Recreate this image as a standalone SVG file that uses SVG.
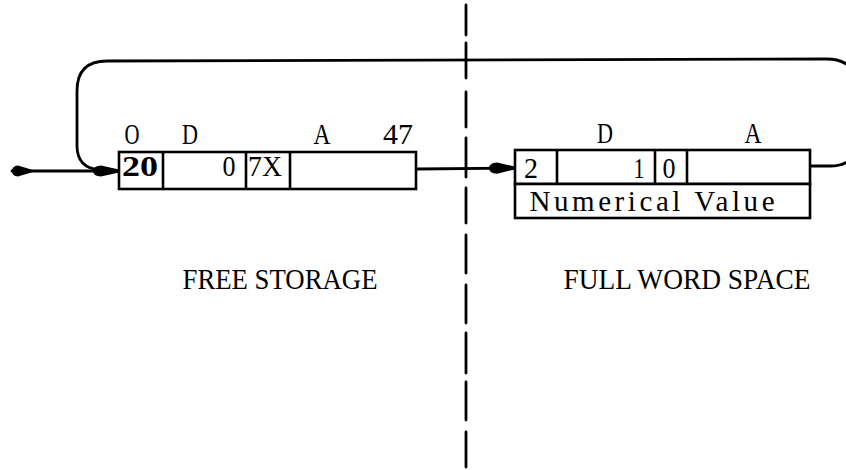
<svg xmlns="http://www.w3.org/2000/svg" width="846" height="470" viewBox="0 0 846 470">
  <style>
    .bx { fill: #fff; stroke: #000; stroke-width: 2.6; }
    .dv { stroke: #000; stroke-width: 2.6; }
    .ln { fill: none; stroke: #000; stroke-width: 2.8; stroke-linecap: round; stroke-linejoin: round; }
    .t { font-family: "Liberation Serif", "DejaVu Serif", serif; font-size: 29px; fill: #000; text-anchor: middle; }
    .b { font-weight: bold; }
  </style>
  <defs>
    <marker id="head" viewBox="0 0 26 12" refX="26" refY="6" markerWidth="26" markerHeight="12" markerUnits="userSpaceOnUse" orient="auto">
      <path d="M26 4.6 L8 0.4 Q0 1 0 6 Q0 11 8 11.6 L26 7.4 Z" fill="#000"/>
    </marker>
    <marker id="tail" viewBox="0 0 20 12" refX="0" refY="6" markerWidth="20" markerHeight="12" markerUnits="userSpaceOnUse" orient="auto">
      <path d="M20 4.8 L6 0.5 Q0 1 0 6 Q0 11 6 11.5 L20 7.2 Z" fill="#000"/>
    </marker>
  </defs>

  <g id="divider">
    <path class="ln" d="M466 5 V35 M466 43 V78 M466 92 V127 M466 138 V177 M466 188 V223 M466 235 V273 M466 285 V323 M466 333 V373 M466 382 V420 M466 432 V467"/>
  </g>

  <g id="connectors">
    <path class="ln" d="M811 166 L830 166 Q857 166 857 140 L857 88 Q857 59 826 59 L107 61 Q77 61 77 91 L77 146 Q77 168 100 170"/>
    <line class="ln" x1="12" y1="171" x2="119" y2="171" marker-start="url(#tail)" marker-end="url(#head)"/>
    <line class="ln" x1="417" y1="169" x2="515" y2="168" marker-end="url(#head)"/>
  </g>

  <g id="free-storage-word">
    <rect class="bx" x="119" y="152" width="297" height="37"/>
    <line class="dv" x1="163" y1="152" x2="163" y2="189"/>
    <line class="dv" x1="246" y1="152" x2="246" y2="189"/>
    <line class="dv" x1="290" y1="152" x2="290" y2="189"/>
    <text class="t" x="132" y="144" textLength="15" lengthAdjust="spacingAndGlyphs">O</text>
    <text class="t" x="190" y="144" textLength="16" lengthAdjust="spacingAndGlyphs">D</text>
    <text class="t" x="322" y="144" textLength="17" lengthAdjust="spacingAndGlyphs">A</text>
    <text class="t" x="398" y="144" textLength="30" lengthAdjust="spacingAndGlyphs">47</text>
    <text class="t b" x="140" y="176" textLength="36" lengthAdjust="spacingAndGlyphs">20</text>
    <text class="t" x="229" y="176" textLength="13" lengthAdjust="spacingAndGlyphs">0</text>
    <text class="t" x="265" y="176" textLength="34" lengthAdjust="spacingAndGlyphs">7X</text>
  </g>

  <g id="full-word">
    <rect class="bx" x="515" y="150" width="295" height="34"/>
    <rect class="bx" x="515" y="184" width="295" height="34"/>
    <line class="dv" x1="557" y1="150" x2="557" y2="184"/>
    <line class="dv" x1="655" y1="150" x2="655" y2="184"/>
    <line class="dv" x1="687" y1="150" x2="687" y2="184"/>
    <text class="t" x="605" y="143" textLength="16" lengthAdjust="spacingAndGlyphs">D</text>
    <text class="t" x="753" y="143" textLength="17" lengthAdjust="spacingAndGlyphs">A</text>
    <text class="t" x="531" y="178" textLength="14" lengthAdjust="spacingAndGlyphs">2</text>
    <text class="t" x="639" y="178" textLength="11" lengthAdjust="spacingAndGlyphs">1</text>
    <text class="t" x="669" y="178" textLength="13" lengthAdjust="spacingAndGlyphs">0</text>
    <text class="t" x="652" y="211" textLength="245" lengthAdjust="spacing">Numerical Value</text>
  </g>

  <g id="labels">
    <text class="t" x="280" y="289" textLength="195" lengthAdjust="spacingAndGlyphs">FREE STORAGE</text>
    <text class="t" x="687" y="289" textLength="247" lengthAdjust="spacingAndGlyphs">FULL WORD SPACE</text>
  </g>
</svg>
